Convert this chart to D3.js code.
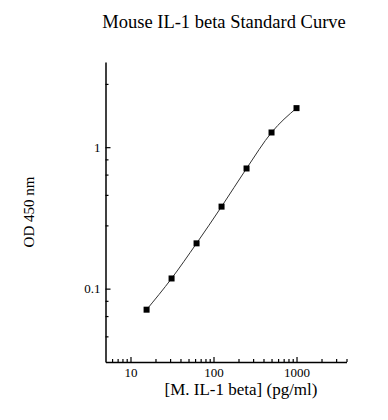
<!DOCTYPE html>
<html>
<head>
<meta charset="utf-8">
<script src="https://cdn.jsdelivr.net/npm/d3@7"></script>
<style>
  body { margin: 0; background: #fff; }
  svg { display: block; font-family: "Liberation Serif", "DejaVu Serif", serif; }
</style>
</head>
<body>
<div id="chart"></div>
<script>
// Standard concentrations (pg/ml) and measured OD
const concentrations = [15.625, 31.25, 62.5, 125, 250, 500, 1000];
const odValues = [0.071, 0.118, 0.209, 0.380, 0.707, 1.27, 1.888];

// Axis ticks
const xMajorTicks = [10, 100, 1000];
const xMinorTicks = [6, 7, 8, 9, 20, 30, 40, 50, 60, 70, 80, 90,
                     200, 300, 400, 500, 600, 700, 800, 900, 2000, 3000, 4000];
const yMajorTicks = [0.1, 1];
const yMinorTicks = [0.046, 0.064, 0.082, 0.28, 0.46, 0.64, 0.82, 2.8];

const W = 388, H = 420;
const margin = { top: 62, right: 41.5, bottom: 58, left: 105.5 },
      width = W - margin.left - margin.right,
      height = H - margin.top - margin.bottom;

const root = d3.select("#chart").append("svg")
    .attr("width", W)
    .attr("height", H);

const svg = root.append("g")
    .attr("transform", `translate(${margin.left},${margin.top})`);

const x = d3.scaleLog().domain([5, 4000]).range([0, width]);
const y = d3.scaleLog().domain([0.0303, 4]).range([height, 0]);

// X axis: minor ticks first, then majors with labels
svg.append("g")
    .attr("transform", `translate(0,${height})`)
    .call(d3.axisBottom(x).tickValues(xMinorTicks).tickSize(-3).tickSizeOuter(0).tickFormat(""))
    .call(g => g.select(".domain").remove());

svg.append("g")
    .attr("transform", `translate(0,${height})`)
    .call(d3.axisBottom(x).tickValues(xMajorTicks).tickSize(-5).tickSizeOuter(0)
        .tickPadding(6).tickFormat(d3.format("d")));

// Y axis
svg.append("g")
    .call(d3.axisLeft(y).tickValues(yMinorTicks).tickSize(-3).tickSizeOuter(0).tickFormat(""))
    .call(g => g.select(".domain").remove());

svg.append("g")
    .call(d3.axisLeft(y).tickValues(yMajorTicks).tickSize(-5).tickSizeOuter(0)
        .tickPadding(5).tickFormat(d => d === 1 ? "1" : "0.1"));

// drop d3's sans-serif default on axis groups
svg.selectAll("g").attr("font-family", null).attr("font-size", null);
svg.selectAll(".tick line").attr("stroke", "#000").attr("stroke-width", 1.2);
svg.selectAll(".domain").attr("stroke", "#000").attr("stroke-width", 1.5);
svg.selectAll(".tick text")
    .attr("fill", "#000")
    .style("font-family", "'Liberation Serif', serif")
    .style("font-size", "13px");

// Fitted curve through the standards
const points = concentrations.map((c, i) => [c, odValues[i]]);

const line = d3.line()
    .x(d => x(d[0]))
    .y(d => y(d[1]))
    .curve(d3.curveMonotoneX);

svg.append("path")
    .datum(points)
    .attr("fill", "none")
    .attr("stroke", "#333")
    .attr("stroke-width", 1)
    .attr("d", line);

// Square markers
const s = 6;
svg.selectAll(".pt")
    .data(points)
    .enter()
    .append("rect")
    .attr("class", "pt")
    .attr("x", d => x(d[0]) - s / 2)
    .attr("y", d => y(d[1]) - s / 2)
    .attr("width", s)
    .attr("height", s)
    .attr("fill", "#000");

// Title
root.append("text")
    .attr("x", 224)
    .attr("y", 28)
    .attr("text-anchor", "middle")
    .attr("font-size", "18.5px")
    .attr("fill", "#000")
    .text("Mouse IL-1 beta Standard Curve");

// X axis title
root.append("text")
    .attr("x", 241)
    .attr("y", 395)
    .attr("text-anchor", "middle")
    .attr("font-size", "17px")
    .attr("fill", "#000")
    .text("[M. IL-1 beta] (pg/ml)");

// Y axis title
root.append("text")
    .attr("transform", `translate(34,${margin.top + height / 2}) rotate(-90)`)
    .attr("text-anchor", "middle")
    .attr("font-size", "15px")
    .attr("fill", "#000")
    .text("OD 450 nm");
</script>
</body>
</html>
